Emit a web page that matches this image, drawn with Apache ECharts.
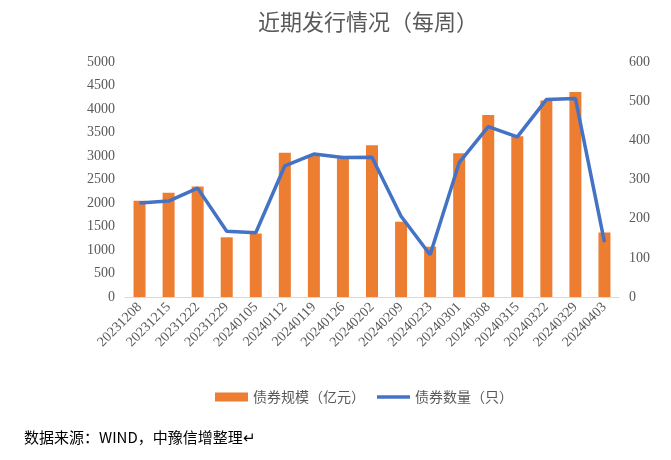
<!DOCTYPE html>
<html><head><meta charset="utf-8">
<script src="https://cdn.jsdelivr.net/npm/echarts@6/dist/echarts.min.js"></script>
<style>html,body{margin:0;padding:0;background:#fff}#c{width:671px;height:460px}</style>
</head><body><div id="c"></div>
<script>
const categories = ['20231208','20231215','20231222','20231229','20240105','20240112','20240119','20240126','20240202','20240209','20240223','20240301','20240308','20240315','20240322','20240329','20240403'];
const scaleValues = [2050,2220,2350,1270,1350,3070,3000,2950,3230,1600,1070,3060,3870,3420,4180,4360,1370];
const countValues = [240,245,278,168,164,335,365,356,357,206,108,343,435,409,504,507,140];
const leftTicks = {min:0,max:5000,interval:500};
const rightTicks = {min:0,max:600,interval:100};

const serif = '"Liberation Serif","DejaVu Serif",serif';
const cjk = '"Noto Sans CJK SC","Noto Sans",sans-serif';
const chart = echarts.init(document.getElementById('c'));
chart.setOption({
  animation:false,
  title:{text:'近期发行情况（每周）',left:363,textAlign:'center',top:6,
    textStyle:{fontFamily:cjk,fontSize:22,fontWeight:'normal',color:'#595959'}},
  graphic:[{type:'text',left:24,top:430,style:{text:'数据来源：WIND，中豫信增整理↵',font:'15px '+cjk,fill:'#000'}}],
  legend:{top:385,left:210,itemWidth:33,itemHeight:9,itemGap:12,
    textStyle:{fontFamily:cjk,fontSize:14,color:'#595959'},
    data:[{name:'债券规模（亿元）',icon:'rect'},{name:'债券数量（只）',icon:'path://M0,0 H40 V4 H0 Z'}]},
  grid:{left:125,right:52,top:62,bottom:163,containLabel:false},
  xAxis:{type:'category',data:categories,
    axisLine:{lineStyle:{color:'#D9D9D9'}},axisTick:{show:false},
    axisLabel:{rotate:45,interval:0,fontFamily:serif,fontSize:14,color:'#595959',margin:8}},
  yAxis:[
    {type:'value',min:leftTicks.min,max:leftTicks.max,interval:leftTicks.interval,
      splitLine:{show:false},axisLine:{show:false},axisTick:{show:false},
      axisLabel:{formatter:v=>String(v),fontFamily:serif,fontSize:14,color:'#595959',margin:10}},
    {type:'value',min:rightTicks.min,max:rightTicks.max,interval:rightTicks.interval,
      splitLine:{show:false},axisLine:{show:false},axisTick:{show:false},
      axisLabel:{formatter:v=>String(v),fontFamily:serif,fontSize:14,color:'#595959',margin:10}}
  ],
  series:[
    {name:'债券规模（亿元）',type:'bar',data:scaleValues,barWidth:12,yAxisIndex:0,
      itemStyle:{color:'#ED7D31'}},
    {name:'债券数量（只）',type:'line',data:countValues,yAxisIndex:1,symbol:'none',
      lineStyle:{color:'#4472C4',width:3.5},itemStyle:{color:'#4472C4'}}
  ]
});
</script></body></html>
